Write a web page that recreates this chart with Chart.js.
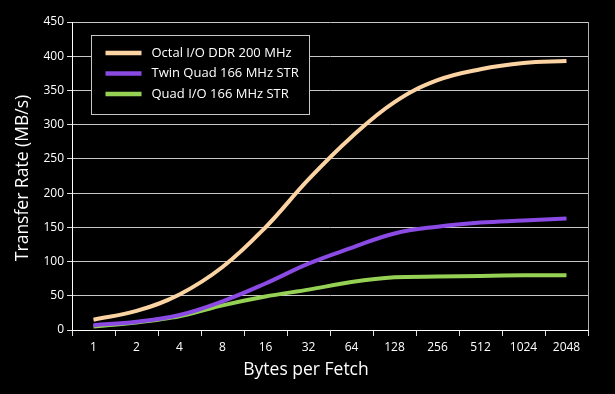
<!DOCTYPE html>
<html>
<head>
<meta charset="utf-8">
<script src="https://cdn.jsdelivr.net/npm/chart.js@4/dist/chart.umd.min.js"></script>
<style>
html,body{margin:0;padding:0;background:#000;}
#wrap{width:615px;height:394px;position:relative;}
</style>
</head>
<body>
<div id="wrap"><canvas id="c" width="615" height="394"></canvas></div>
<script>
const categories = ['1','2','4','8','16','32','64','128','256','512','1024','2048'];
const octalDDR200 = [15, 28, 52, 92, 150, 220, 282, 333, 365, 381, 390, 393];
const twinQuad166 = [7, 12, 22, 42, 68, 97, 120, 141, 151, 157, 160, 163];
const quadIO166 = [5, 11, 20, 36, 49, 59, 70, 77, 78, 79, 80, 80];
const seriesNames = ['Octal I/O DDR 200 MHz', 'Twin Quad 166 MHz STR', 'Quad I/O 166 MHz STR'];
const seriesColors = ['#FCD3A3', '#8A4AE3', '#94D155'];
const yTicks = [0, 50, 100, 150, 200, 250, 300, 350, 400, 450];
const xTitle = 'Bytes per Fetch';
const yTitle = 'Transfer Rate (MB/s)';

const FONT = '"Open Sans", "Noto Sans", sans-serif';

const deco = {
  id: 'deco',
  beforeDraw(chart) {
    const ctx = chart.ctx;
    ctx.save();
    ctx.fillStyle = '#000';
    ctx.fillRect(0, 0, chart.width, chart.height);
    ctx.restore();
  },
  afterDatasetsDraw(chart) {
    const ctx = chart.ctx;
    const a = chart.chartArea;
    ctx.save();
    ctx.strokeStyle = '#b0b0b0';
    ctx.lineWidth = 1;
    ctx.beginPath();
    ctx.moveTo(Math.round(a.right) + 0.5, a.top);
    ctx.lineTo(Math.round(a.right) + 0.5, a.bottom);
    ctx.stroke();
    const bx = a.left + 19.5, by = a.top + 13.5, bw = 218, bh = 79;
    ctx.fillStyle = '#000';
    ctx.fillRect(bx, by, bw, bh);
    ctx.strokeStyle = '#c8c8c8';
    ctx.strokeRect(bx, by, bw, bh);
    ctx.font = '13px ' + FONT;
    ctx.textBaseline = 'middle';
    ctx.textAlign = 'left';
    for (let i = 0; i < seriesNames.length; i++) {
      const cy = by + 17.5 + i * 20.5;
      ctx.strokeStyle = seriesColors[i];
      ctx.lineWidth = 4.5;
      ctx.beginPath();
      ctx.moveTo(bx + 14, cy);
      ctx.lineTo(bx + 50, cy);
      ctx.stroke();
      ctx.fillStyle = '#ffffff';
      ctx.fillText(seriesNames[i], bx + 60, cy);
    }
    ctx.fillStyle = '#ffffff';
    ctx.font = '17.5px ' + FONT;
    ctx.textAlign = 'center';
    ctx.textBaseline = 'middle';
    ctx.fillText(xTitle, 306, 370);
    ctx.translate(23, (a.top + a.bottom) / 2 + 2);
    ctx.rotate(-Math.PI / 2);
    ctx.fillText(yTitle, 0, 0);
    ctx.restore();
  }
};

new Chart(document.getElementById('c'), {
  type: 'line',
  data: {
    labels: categories,
    datasets: [
      { label: seriesNames[0], data: octalDDR200, borderColor: seriesColors[0], borderWidth: 4, pointRadius: 0, tension: 0.4 },
      { label: seriesNames[1], data: twinQuad166, borderColor: seriesColors[1], borderWidth: 4, pointRadius: 0, tension: 0.4 },
      { label: seriesNames[2], data: quadIO166, borderColor: seriesColors[2], borderWidth: 4, pointRadius: 0, tension: 0.3 }
    ]
  },
  options: {
    responsive: false,
    animation: false,
    layout: { padding: { top: 22, right: 27, left: 0, bottom: 0 } },
    plugins: { legend: { display: false }, tooltip: { enabled: false } },
    scales: {
      x: {
        offset: true,
        grid: { offset: true, drawOnChartArea: false, color: '#e0e0e0', tickLength: 6, tickColor: '#e0e0e0' },
        border: { color: '#ffffff', width: 1 },
        ticks: { color: '#ffffff', font: { family: FONT, size: 12 }, padding: 4, maxRotation: 0, autoSkip: false },
        afterFit(s) { s.height = 394 - 330; }
      },
      y: {
        min: 0, max: 450,
        afterBuildTicks(s) { s.ticks = yTicks.map(v => ({ value: v })); },
        grid: { color: '#c8c8c8', tickLength: 5, tickColor: '#e0e0e0' },
        border: { color: '#ffffff', width: 1 },
        ticks: { color: '#ffffff', font: { family: FONT, size: 12 }, padding: 3 },
        afterFit(s) { s.width = 72; }
      }
    }
  },
  plugins: [deco]
});
</script>
</body>
</html>
